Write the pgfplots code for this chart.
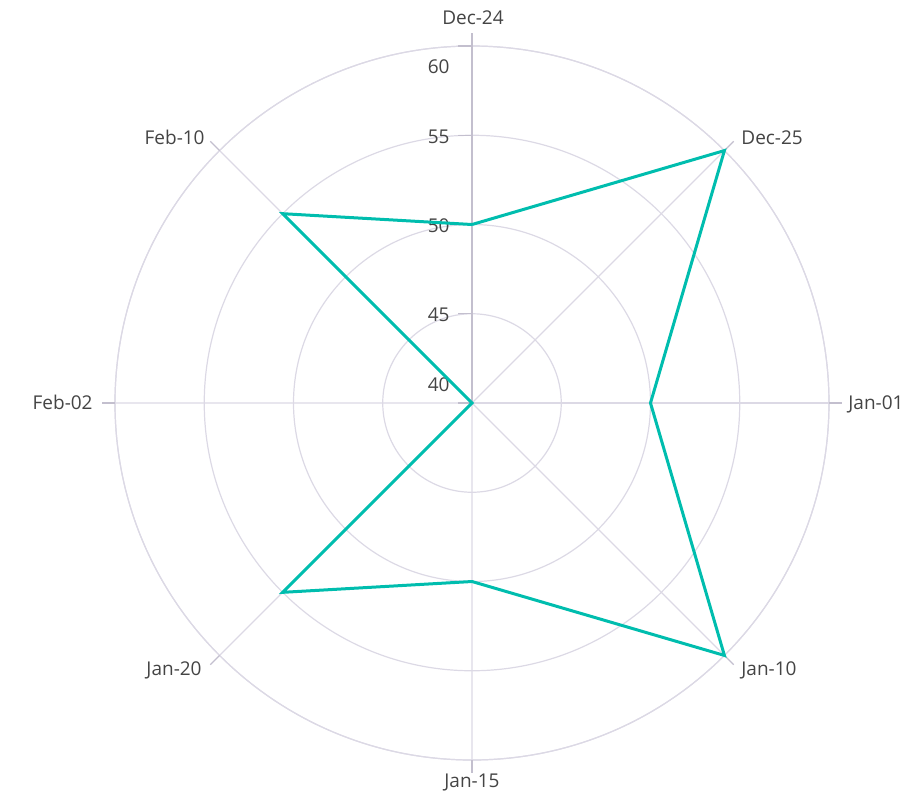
\documentclass[border=0pt]{standalone}
\usepackage{pgfplots}
\usepackage{pgfplotstable}
\pgfplotsset{compat=1.18}
\usepgfplotslibrary{polar}
\usepackage{fontspec}
\setmainfont{Open Sans}
\definecolor{gridc}{HTML}{DCD9E5}
\definecolor{axisc}{HTML}{C3BFCE}
\definecolor{labc}{HTML}{444444}
\definecolor{teal1}{HTML}{00BDAE}

\pgfplotstableread{
ang val
90  50
45  60
0   50
315 60
270 50
225 55
180 40
135 55
90  50
}\sales

\begin{document}
\begin{tikzpicture}
\path[use as bounding box] (-236pt,-198.5pt) rectangle (224pt,201.5pt);
\begin{polaraxis}[
  at={(0,0)}, anchor=center,
  width=357pt, height=357pt, scale only axis,
  xmin=0, xmax=360, ymin=0, ymax=20,
  xtick={0,45,...,315}, xticklabels={},
  ytick={5,10,15,20}, yticklabels={},
  major tick style={draw=none},
  xmajorgrids, ymajorgrids,
  grid style={gridc, line width=0.6pt},
  axis line style={gridc, line width=0.6pt},
  clip=false,
]
% spoke ticks outside the rim
\pgfplotsinvokeforeach{0,45,...,315}{
  \draw[axisc, line width=0.6pt] (axis cs:#1,20) -- (axis cs:#1,20.73);
}
% radial axis
\draw[axisc, line width=0.75pt] (axis cs:90,0) -- (axis cs:90,20.75);
\pgfplotsinvokeforeach{0,5,10,15,20}{
  \draw[axisc, line width=0.6pt] (axis cs:90,#1) -- ++(-7pt,0);
}
\begin{scope}[font=\fontsize{9.5}{11}\selectfont, text=labc, inner sep=0pt]
\node[anchor=east] at ([xshift=-11pt,yshift=-10.5pt]axis cs:90,20) {60};
\node[anchor=east] at ([xshift=-11pt,yshift=-1pt]axis cs:90,15) {55};
\node[anchor=east] at ([xshift=-11pt,yshift=-0.5pt]axis cs:90,10) {50};
\node[anchor=east] at ([xshift=-11pt,yshift=-0.5pt]axis cs:90,5) {45};
\node[anchor=east] at ([xshift=-11pt,yshift=9pt]axis cs:90,0) {40};
% category labels
\node[anchor=base] at ([xshift=0.5pt,yshift=189.5pt]axis cs:0,0) {Dec-24};
\node[anchor=base west] at ([xshift=134.5pt,yshift=129.5pt]axis cs:0,0) {Dec-25};
\node[anchor=base west] at ([xshift=188pt,yshift=-3pt]axis cs:0,0) {Jan-01};
\node[anchor=base west] at ([xshift=134.5pt,yshift=-136pt]axis cs:0,0) {Jan-10};
\node[anchor=base] at ([xshift=0pt,yshift=-192pt]axis cs:0,0) {Jan-15};
\node[anchor=base east] at ([xshift=-135pt,yshift=-136pt]axis cs:0,0) {Jan-20};
\node[anchor=base east] at ([xshift=-189.5pt,yshift=-3pt]axis cs:0,0) {Feb-02};
\node[anchor=base east] at ([xshift=-133.5pt,yshift=129.5pt]axis cs:0,0) {Feb-10};
\end{scope}
\addplot[teal1, line width=1.5pt, no markers] table[x=ang, y expr=\thisrow{val}-40] {\sales};
\end{polaraxis}
\end{tikzpicture}
\end{document}
